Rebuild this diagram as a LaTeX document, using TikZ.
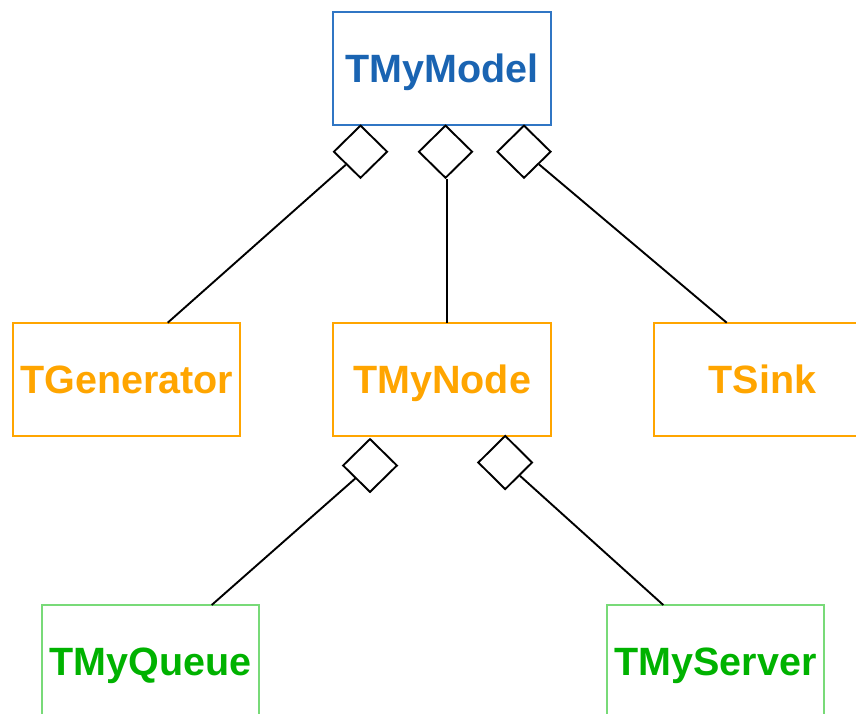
\documentclass[tikz,border=0pt]{standalone}
\usepackage{fontspec}
\setmainfont{Liberation Sans}
\usetikzlibrary{shapes.geometric}
\definecolor{modeltext}{RGB}{26,100,178}
\definecolor{modelline}{RGB}{48,118,196}
\definecolor{nodeorange}{RGB}{255,165,0}
\definecolor{leaftext}{RGB}{0,178,0}
\definecolor{leafline}{RGB}{120,218,120}
\begin{document}
\begin{tikzpicture}[x=1pt,y=-1pt,
  cls/.style={draw, line width=1.9pt, rectangle, inner sep=0pt,
    minimum height=113pt, text height=28.5pt, text depth=0pt,
    font=\fontsize{39.5}{40}\selectfont\bfseries},
  topcls/.style={cls, draw=modelline, text=modeltext},
  midcls/.style={cls, draw=nodeorange, text=nodeorange},
  leafcls/.style={cls, draw=leafline, text=leaftext},
  agg/.style={draw, line width=1.9pt, diamond, aspect=1, inner sep=0pt,
    minimum width=54pt, minimum height=53pt, fill=white},
  link/.style={line width=1.9pt}]
\useasboundingbox (0,0) rectangle (856,713);
\clip (0,0) rectangle (856,713);

% classes
\node[topcls, minimum width=217.7pt] (model) at (442.2,68.7) {TMyModel};
\node[midcls, minimum width=226.7pt] (gen) at (126.7,379.4) {TGenerator};
\node[midcls, minimum width=217.7pt] (mynode) at (442.2,379.4) {TMyNode};
\node[midcls, minimum width=217pt] (sink) at (762.5,379.4) {TSink};
\node[leafcls, minimum width=217.3pt] (queue) at (150.4,661.5) {TMyQueue};
\node[leafcls, minimum width=217.6pt] (server) at (715.5,661.5) {TMyServer};

% aggregation diamonds
\node[agg] (aGen) at (360.5,151.7) {};
\node[agg] (aNode) at (445.5,151.7) {};
\node[agg] (aSink) at (524,151.7) {};
\node[agg, minimum width=54.6pt, minimum height=53.6pt] (aQueue) at (370,465.5) {};
\node[agg, minimum width=54.6pt, minimum height=54pt] (aServer) at (505.2,462.5) {};

% attachment points on the part classes
\coordinate (genTop) at (167.7,322.7);
\coordinate (nodeTop) at (446.7,322.7);
\coordinate (sinkTop) at (726.7,322.7);
\coordinate (queueTop) at (211.7,605);
\coordinate (serverTop) at (663.3,605);

% composition links
\draw[link] (aGen) -- (genTop);
\draw[link] (aNode.south -| nodeTop) -- (nodeTop);
\draw[link] (aSink) -- (sinkTop);
\draw[link] (aQueue) -- (queueTop);
\draw[link] (aServer) -- (serverTop);
\end{tikzpicture}
\end{document}
